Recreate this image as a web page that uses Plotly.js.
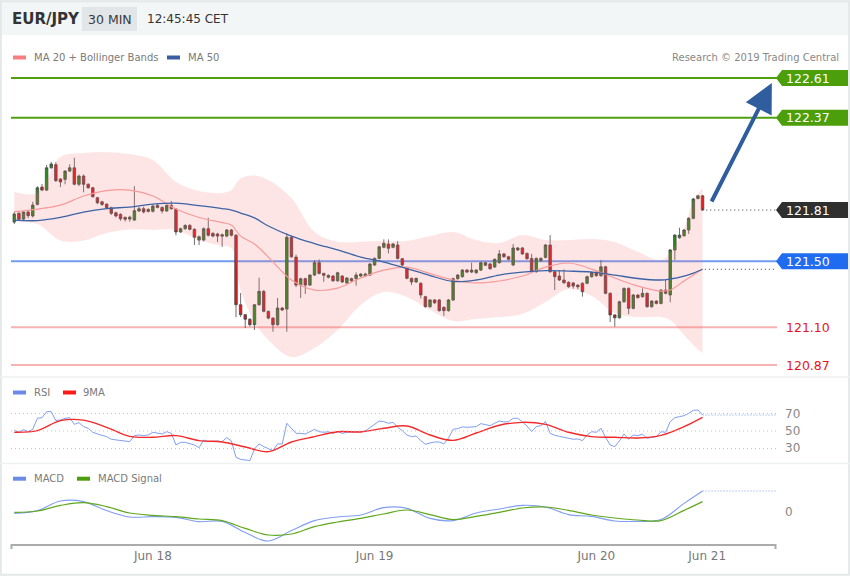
<!DOCTYPE html>
<html><head><meta charset="utf-8">
<script src="https://cdn.plot.ly/plotly-3.0.1.min.js"></script>
<style>html,body{margin:0;padding:0;background:#fff;overflow:hidden}#chart{width:850px;height:576px}</style>
</head><body><div id="chart"></div>
<script>
// ---------- DATA ----------
const openP = [121.737,121.790,121.755,121.798,121.774,121.844,121.949,121.931,122.066,122.085,
121.998,121.996,122.046,122.066,121.966,122.016,121.966,121.945,121.885,121.860,
121.846,121.824,121.794,121.784,121.766,121.755,121.749,121.804,121.818,121.814,
121.802,121.838,121.826,121.804,121.838,121.816,121.677,121.697,121.717,121.693,
121.628,121.628,121.697,121.669,121.665,121.660,121.652,121.689,121.657,121.236,
121.176,121.148,121.115,121.236,121.317,121.196,121.155,121.115,121.216,121.210,
121.645,121.525,121.355,121.394,121.355,121.416,121.491,121.426,121.402,121.410,
121.381,121.410,121.368,121.394,121.394,121.410,121.410,121.416,121.477,121.517,
121.584,121.604,121.584,121.598,121.515,121.457,121.396,121.374,121.366,121.285,
121.224,121.265,121.265,121.220,121.200,121.265,121.394,121.406,121.446,121.434,
121.430,121.446,121.475,121.483,121.465,121.491,121.544,121.527,121.477,121.568,
121.580,121.547,121.517,121.436,121.503,121.523,121.598,121.436,121.410,121.386,
121.372,121.368,121.355,121.366,121.366,121.406,121.432,121.412,121.466,121.305,
121.174,121.157,121.254,121.335,121.214,121.295,121.285,121.305,121.224,121.258,
121.244,121.325,121.295,121.568,121.642,121.654,121.689,121.760,121.880,121.896];
const highP = [121.798,121.800,121.804,121.804,121.860,121.955,121.967,122.083,122.101,122.100,
122.004,122.052,122.087,122.127,122.025,122.025,121.972,121.950,121.890,121.866,
121.850,121.830,121.800,121.790,121.770,121.775,121.955,121.830,121.830,121.820,
121.845,121.851,121.832,121.845,121.865,121.822,121.703,121.723,121.725,121.700,
121.655,121.705,121.763,121.675,121.672,121.668,121.695,121.695,121.665,121.307,
121.180,121.155,121.240,121.400,121.325,121.200,121.160,121.277,121.222,121.669,
121.655,121.540,121.400,121.400,121.420,121.507,121.511,121.430,121.420,121.416,
121.436,121.416,121.404,121.400,121.432,121.428,121.430,121.489,121.523,121.593,
121.632,121.632,121.610,121.622,121.520,121.463,121.400,121.400,121.372,121.290,
121.270,121.270,121.270,121.226,121.270,121.400,121.422,121.452,121.452,121.491,
121.452,121.497,121.497,121.490,121.517,121.568,121.550,121.533,121.604,121.586,
121.586,121.553,121.544,121.523,121.523,121.604,121.658,121.442,121.446,121.450,
121.378,121.374,121.360,121.372,121.412,121.438,121.438,121.507,121.472,121.311,
121.180,121.260,121.341,121.341,121.301,121.301,121.335,121.311,121.264,121.264,
121.331,121.386,121.574,121.664,121.703,121.695,121.766,121.883,121.902,121.902];
const lowP = [121.725,121.749,121.743,121.760,121.765,121.838,121.925,121.925,122.060,121.980,
121.949,121.966,122.040,121.960,121.955,121.917,121.940,121.885,121.845,121.835,
121.815,121.780,121.765,121.745,121.740,121.740,121.745,121.798,121.790,121.795,
121.795,121.820,121.790,121.800,121.812,121.657,121.672,121.690,121.687,121.598,
121.598,121.620,121.650,121.645,121.616,121.587,121.645,121.650,121.160,121.162,
121.095,121.105,121.083,121.230,121.190,121.148,121.072,121.108,121.198,121.072,
121.520,121.343,121.277,121.301,121.350,121.410,121.420,121.375,121.395,121.375,
121.375,121.368,121.362,121.375,121.351,121.404,121.404,121.410,121.471,121.511,
121.578,121.547,121.578,121.511,121.470,121.390,121.355,121.368,121.275,121.218,
121.218,121.240,121.194,121.168,121.194,121.258,121.388,121.400,121.428,121.428,
121.424,121.440,121.470,121.448,121.459,121.485,121.520,121.505,121.470,121.562,
121.538,121.509,121.430,121.430,121.497,121.517,121.430,121.325,121.380,121.363,
121.339,121.333,121.330,121.285,121.360,121.400,121.406,121.406,121.299,121.131,
121.103,121.151,121.248,121.178,121.208,121.273,121.279,121.218,121.218,121.238,
121.238,121.299,121.251,121.507,121.636,121.648,121.665,121.754,121.874,121.804];
const closeP = [121.786,121.754,121.798,121.776,121.840,121.945,121.931,122.066,122.089,121.988,
121.980,122.046,122.066,121.966,122.016,121.966,121.945,121.891,121.854,121.844,
121.824,121.790,121.774,121.757,121.754,121.767,121.806,121.818,121.798,121.802,
121.834,121.826,121.804,121.838,121.818,121.677,121.697,121.717,121.693,121.645,
121.648,121.697,121.657,121.652,121.652,121.652,121.689,121.657,121.236,121.176,
121.148,121.115,121.236,121.317,121.196,121.155,121.115,121.216,121.204,121.645,
121.527,121.355,121.394,121.355,121.416,121.491,121.426,121.414,121.414,121.381,
121.430,121.374,121.398,121.381,121.416,121.422,121.422,121.483,121.517,121.587,
121.608,121.578,121.604,121.517,121.477,121.396,121.374,121.396,121.295,121.224,
121.265,121.248,121.200,121.200,121.265,121.394,121.416,121.446,121.434,121.446,
121.446,121.491,121.491,121.454,121.511,121.544,121.527,121.511,121.580,121.580,
121.544,121.515,121.436,121.517,121.517,121.598,121.436,121.406,121.386,121.369,
121.345,121.349,121.345,121.315,121.406,121.432,121.412,121.466,121.305,121.174,
121.157,121.254,121.335,121.214,121.295,121.279,121.305,121.224,121.258,121.244,
121.325,121.305,121.568,121.658,121.658,121.689,121.760,121.877,121.896,121.810];

const bandIdx = [0,5,10,15,20,25,30,35,40,45,47,49,52,55,60,65,70,75,80,85,90,95,100,105,110,115,120,125,130,135,140,142,145,147,149];
const bbUpper = [121.921,121.913,122.131,122.155,122.161,122.149,122.113,121.980,121.925,121.913,121.931,122.001,122.019,121.992,121.883,121.677,121.618,121.618,121.622,121.622,121.652,121.677,121.628,121.610,121.658,121.628,121.628,121.634,121.616,121.555,121.507,121.552,121.701,121.865,121.943];
const bbLower = [121.739,121.725,121.625,121.625,121.671,121.692,121.689,121.689,121.628,121.592,121.580,121.325,121.131,121.022,120.919,120.974,121.083,121.234,121.313,121.283,121.204,121.137,121.149,121.161,121.180,121.252,121.331,121.289,121.186,121.161,121.161,121.143,121.052,120.992,120.943];
const ma20 = [121.800,121.816,121.840,121.895,121.928,121.931,121.895,121.816,121.765,121.734,121.719,121.652,121.604,121.525,121.386,121.325,121.337,121.398,121.446,121.464,121.425,121.386,121.368,121.380,121.410,121.464,121.489,121.452,121.398,121.349,121.319,121.325,121.380,121.416,121.452];
const ma50 = [121.749,121.746,121.765,121.798,121.819,121.828,121.846,121.852,121.837,121.819,121.810,121.792,121.762,121.713,121.652,121.607,121.568,121.525,121.495,121.455,121.413,121.377,121.386,121.416,121.434,121.443,121.440,121.434,121.416,121.395,121.386,121.392,121.410,121.428,121.451];

const rsi = [51.2,48.5,51.5,49.2,51.9,64.5,65.2,72.1,72.1,61.8,
62.6,64.5,65.2,57.6,59.5,55,53.1,48.5,46.6,45.4,
43.5,40.5,39.7,38.6,37.8,37.8,44.7,45.4,44.7,45.4,
48.5,47.3,46.6,49.2,47.3,34,37,37,35.9,34,
30.9,39.7,37.8,38.6,38.6,37.8,42.4,38.6,19.9,17.6,
16.9,16.1,29.4,35.2,32.1,30.2,27.5,35.2,35.2,58.8,
53.1,47.3,47.3,46.6,49.2,51.9,49.2,48.5,49.2,47.3,
49.2,47.3,48.5,49.2,49.2,49.2,50,53.8,57.6,61.4,
60.7,58.8,59.9,54.2,50.4,45.4,43.5,44.3,39,34.8,
36.3,37.4,37.4,35.2,42,51.9,52.7,54.6,54.2,54.6,
55,58.4,57.2,56.1,58.8,61.4,60.3,60.7,64.5,64.5,
60.3,55.7,49.2,55,56.1,60.7,47.3,45,43.9,42.8,
40.9,40.5,40.9,39,45.4,49.2,48.5,53.1,42.8,34,
32.1,38.6,46.6,40.5,45.4,44.7,46.2,41.6,42.8,43.5,
49.2,48.5,60.7,65.2,66.4,67.5,70.2,73.6,74,68.3];
const slowIdx = [0,5,10,15,20,25,30,35,40,45,50,55,60,65,70,75,80,85,90,95,100,105,110,115,120,125,130,135,140,145,149];
const rsiMa = [48.5,50.4,61.8,62.4,54.2,43.9,42.8,44.7,39,37.4,31.7,26.4,37.4,43.5,49.2,48.9,53.1,55.7,45.4,39.3,47.7,56.5,59.9,57.6,48.5,43.5,42.8,42,45,55,65.6];
const macd = [-0.007,0.007,0.055,0.052,0.007,-0.025,-0.023,-0.027,-0.048,-0.047,-0.103,-0.145,-0.093,-0.043,-0.025,-0.015,0.022,0.018,-0.032,-0.043,-0.005,0.015,0.033,0.025,-0.013,-0.022,-0.045,-0.047,-0.038,0.043,0.105];
const macdSignal = [-0.002,0.005,0.033,0.047,0.027,-0.005,-0.017,-0.023,-0.035,-0.043,-0.082,-0.115,-0.110,-0.073,-0.05,-0.032,-0.01,0.01,-0.013,-0.038,-0.022,-0.002,0.02,0.025,0.008,-0.015,-0.03,-0.04,-0.043,0.008,0.052];

const tickIdx = [30, 78, 126, 150];
const tickLabels = ['Jun 18', 'Jun 19', 'Jun 20', 'Jun 21'];
const resistances = [122.61, 122.37];
const pivot = 121.50;
const supports = [121.10, 120.87];
const lastPrice = 121.81;
const target = 122.58;

// ---------- LAYOUT HELPERS ----------
const W = 850, H = 576;
const px = x => x / W;
const py = y => 1 - y / H;
const FONT = 'DejaVu Sans, Verdana, sans-serif';
const idx = closeP.map((_, i) => i);
const lastI = idx[idx.length - 1];
const XR = [-0.71, 164.9];
const mainH = 8 / 165; // half height of price tags in price units

const traces = [
  {x: bandIdx, y: bbUpper, type: 'scatter', mode: 'lines', line: {width: 0, shape: 'spline'}, hoverinfo: 'skip', showlegend: false},
  {x: bandIdx, y: bbLower, type: 'scatter', mode: 'lines', line: {width: 0, shape: 'spline'}, fill: 'tonexty', fillcolor: 'rgba(245,110,110,0.18)', hoverinfo: 'skip', showlegend: false},
  {x: bandIdx, y: ma20, type: 'scatter', mode: 'lines', line: {width: 1.2, color: '#f79a9a', shape: 'spline'}, showlegend: false},
  {x: bandIdx, y: ma50, type: 'scatter', mode: 'lines', line: {width: 1.3, color: '#3c63a6', shape: 'spline'}, showlegend: false},
  {x: idx, open: openP, high: highP, low: lowP, close: closeP, type: 'candlestick', whiskerwidth: 0,
   increasing: {line: {color: '#4a4a4a', width: 0.8}, fillcolor: '#2b8a1c'},
   decreasing: {line: {color: '#4a4a4a', width: 0.8}, fillcolor: '#e5141b'}, showlegend: false},
  {x: idx, y: rsi, yaxis: 'y2', type: 'scatter', mode: 'lines', line: {width: 1, color: '#819ef0'}, showlegend: false},
  {x: slowIdx, y: rsiMa, yaxis: 'y2', type: 'scatter', mode: 'lines', line: {width: 1.4, color: '#f42a2a', shape: 'spline'}, showlegend: false},
  {x: slowIdx, y: macd, yaxis: 'y3', type: 'scatter', mode: 'lines', line: {width: 1.1, color: '#819ef0', shape: 'spline'}, showlegend: false},
  {x: slowIdx, y: macdSignal, yaxis: 'y3', type: 'scatter', mode: 'lines', line: {width: 1.2, color: '#5fa81e', shape: 'spline'}, showlegend: false}
];

const shapes = [];
const annotations = [];
// header band & frame
shapes.push({type: 'rect', xref: 'paper', yref: 'paper', x0: 0, x1: 1, y0: py(35), y1: 1, fillcolor: '#f3f6f6', line: {width: 0}, layer: 'below'});
shapes.push({type: 'rect', xref: 'paper', yref: 'paper', x0: px(82), x1: px(137), y0: py(31), y1: py(7), fillcolor: '#e2e6e8', line: {width: 0}, layer: 'below'});
shapes.push({type: 'rect', xref: 'paper', yref: 'paper', x0: 0.001, x1: 0.999, y0: 0.002, y1: 0.998, line: {color: '#e4e8e8', width: 2}});
shapes.push({type: 'line', xref: 'paper', yref: 'paper', x0: 0, x1: 1, y0: py(377), y1: py(377), line: {color: '#eef1f1', width: 1.5}});
shapes.push({type: 'line', xref: 'paper', yref: 'paper', x0: 0, x1: 1, y0: py(463.5), y1: py(463.5), line: {color: '#eef1f1', width: 1.5}});

// legend swatches + texts
function legendItem(x, y, color, label, tx) {
  shapes.push({type: 'rect', xref: 'paper', yref: 'paper', x0: px(x), x1: px(x + 13), y0: py(y + 2), y1: py(y - 2), fillcolor: color, line: {width: 0}});
  annotations.push({xref: 'paper', yref: 'paper', x: px(tx), y: py(y), xanchor: 'left', yanchor: 'middle', showarrow: false, text: label, font: {family: FONT, size: 10, color: '#7a7a7a'}});
}
legendItem(13, 57.5, '#f77f7f', 'MA 20 + Bollinger Bands', 32);
legendItem(167, 57.5, '#3a5fa0', 'MA 50', 186);
legendItem(13, 392.5, '#6a8ae6', 'RSI', 32);
legendItem(63, 392.5, '#ff1a1a', '9MA', 80.5);
legendItem(13, 478.7, '#6a8ae6', 'MACD', 32);
legendItem(77, 478.7, '#4a9e0b', 'MACD Signal', 95.5);

// header texts
annotations.push({xref: 'paper', yref: 'paper', x: px(10), y: py(19), xanchor: 'left', yanchor: 'middle', showarrow: false, text: '<b>EUR/JPY</b>', font: {family: FONT, size: 15, color: '#333'}});
annotations.push({xref: 'paper', yref: 'paper', x: px(109.5), y: py(19), xanchor: 'center', yanchor: 'middle', showarrow: false, text: '30 MIN', font: {family: FONT, size: 12.5, color: '#3a3a3a'}});
annotations.push({xref: 'paper', yref: 'paper', x: px(144.5), y: py(19), xanchor: 'left', yanchor: 'middle', showarrow: false, text: '12:45:45 CET', font: {family: FONT, size: 12, color: '#333'}});
annotations.push({xref: 'paper', yref: 'paper', x: px(841), y: py(57.5), xanchor: 'right', yanchor: 'middle', showarrow: false, text: 'Research © 2019 Trading Central', font: {family: FONT, size: 10, color: '#888'}});

// level lines
function hline(p, color) {
  shapes.push({type: 'line', xref: 'paper', yref: 'y', x0: px(11), x1: px(777), y0: p, y1: p, line: {color: color, width: 2}, layer: 'below'});
}
function tag(p, bg, txtColor) {
  if (bg) {
    const a = px(776), b = px(782), c = px(848);
    shapes.push({type: 'path', xref: 'paper', yref: 'y', path: `M ${a},${p} L ${b},${p + mainH} L ${c},${p + mainH} L ${c},${p - mainH} L ${b},${p - mainH} Z`, fillcolor: bg, line: {width: 0}});
  }
  annotations.push({xref: 'paper', yref: 'y', x: px(784), y: p, xanchor: 'left', yanchor: 'middle', showarrow: false, text: p.toFixed(2), font: {family: FONT, size: 12.5, color: txtColor}});
}
resistances.forEach(p => { hline(p, '#4fa00c'); tag(p, '#4c9e0a', '#fff'); });
hline(pivot, '#6f9cf2'); tag(pivot, '#1f6cf0', '#fff');
supports.forEach(p => { hline(p, '#f8b2b2'); tag(p, null, '#e8141a'); });
// last price tag and dotted guides
shapes.push({type: 'line', xref: 'x', yref: 'y', x0: lastI + 0.8, x1: XR[1], y0: lastPrice, y1: lastPrice, line: {color: '#333', width: 1, dash: '1px,3px'}});
shapes.push({type: 'line', xref: 'x', yref: 'y', x0: lastI + 0.5, x1: XR[1], y0: ma50[ma50.length - 1], y1: ma50[ma50.length - 1], line: {color: '#333', width: 1, dash: '1px,3px'}});
tag(lastPrice, '#2f2f2f', '#fff');

// RSI grid and labels
[70, 50, 30].forEach(v => {
  shapes.push({type: 'line', xref: 'paper', yref: 'y2', x0: px(11), x1: px(776), y0: v, y1: v, line: {color: '#c4c4c4', width: 1, dash: '1px,3px'}});
  annotations.push({xref: 'paper', yref: 'y2', x: px(783), y: v, xanchor: 'left', yanchor: 'middle', showarrow: false, text: String(v), font: {family: FONT, size: 12, color: '#888'}});
});
shapes.push({type: 'line', xref: 'x', yref: 'y2', x0: lastI, x1: XR[1], y0: rsi[rsi.length - 1], y1: rsi[rsi.length - 1], line: {color: '#819ef0', width: 1.2, dash: '1px,2px'}});
annotations.push({xref: 'paper', yref: 'y3', x: px(783), y: 0, xanchor: 'left', yanchor: 'middle', showarrow: false, text: '0', font: {family: FONT, size: 12, color: '#888'}});
shapes.push({type: 'line', xref: 'x', yref: 'y3', x0: lastI, x1: XR[1], y0: macd[macd.length - 1], y1: macd[macd.length - 1], line: {color: '#819ef0', width: 1.2, dash: '1px,2px'}});

// x axis end ticks
shapes.push({type: 'line', xref: 'paper', yref: 'paper', x0: px(11.5), x1: px(11.5), y0: py(544), y1: py(549), line: {color: '#aaa', width: 2}});
shapes.push({type: 'line', xref: 'paper', yref: 'paper', x0: px(775.5), x1: px(775.5), y0: py(544), y1: py(549), line: {color: '#aaa', width: 2}});

// forecast arrow
annotations.push({x: 164.0, y: target, xref: 'x', yref: 'y', ax: lastI + 1.2, ay: lastPrice + 0.01, axref: 'x', ayref: 'y', showarrow: true, arrowhead: 2, arrowsize: 1.45, arrowwidth: 4, arrowcolor: '#2f5d9e', text: ' ', standoff: 0});

const layout = {
  width: W, height: H, margin: {l: 0, r: 0, t: 0, b: 0},
  paper_bgcolor: '#fff', plot_bgcolor: 'rgba(0,0,0,0)',
  font: {family: FONT}, showlegend: false, dragmode: false,
  xaxis: {domain: [px(11), px(776)], range: XR, anchor: 'y3', showline: true, linecolor: '#ababab', linewidth: 2,
          showgrid: false, zeroline: false, tickvals: tickIdx, ticktext: tickLabels, ticks: '',
          tickfont: {family: FONT, size: 12, color: '#777'}, rangeslider: {visible: false}, fixedrange: true},
  yaxis: {domain: [py(376), py(68)], range: [120.804, 122.671], showgrid: false, zeroline: false, showticklabels: false, showline: false, fixedrange: true},
  yaxis2: {domain: [py(465), py(378)], range: [11.1, 110.6], showgrid: false, zeroline: false, showticklabels: false, showline: false, fixedrange: true},
  yaxis3: {domain: [py(544), py(465)], range: [-0.16, 0.235], showgrid: false, zeroline: false, showticklabels: false, showline: false, fixedrange: true},
  boxgap: 0.22,
  shapes: shapes, annotations: annotations
};
Plotly.newPlot('chart', traces, layout, {staticPlot: true, displayModeBar: false});
</script></body></html>
